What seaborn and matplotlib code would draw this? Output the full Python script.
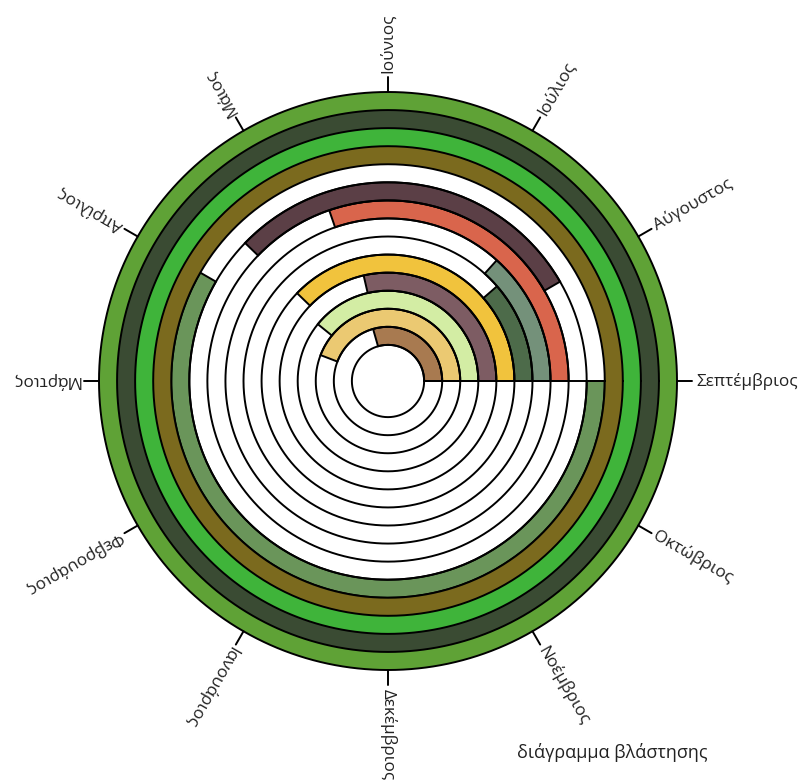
import numpy as np
import matplotlib.pyplot as plt
import seaborn as sns

# Months placed counter-clockwise, starting at 3 o'clock
months = ["Σεπτέμβριος", "Αύγουστος", "Ιούλιος", "Ιούνιος", "Μάιος", "Απρίλιος",
          "Μάρτιος", "Φεβρουάριος", "Ιανουάριος", "Δεκέμβριος", "Νοέμβριος", "Οκτώβριος"]
month_angle_deg = [0, 30, 60, 90, 120, 150, 180, 210, 240, 270, 300, 330]

# One ring per plant, inner to outer: arc start / end in degrees
ring_start_deg = [0, 0, 0, 0, 0, 0, 0, 0, 30, 150, 0, 0, 0, 0]
ring_end_deg = [106, 159, 141, 103, 136, 41, 48, 109, 136, 360, 360, 360, 360, 360]
ring_colors = ["#a87a50", "#ebc972", "#d3eda4", "#7d5c63", "#f1c33d", "#4d6b4a",
               "#74917a", "#d9654c", "#5b3f46", "#6a955a", "#7b6a1e", "#3fb43a",
               "#3a4b33", "#5fa236"]

title = "διάγραμμα βλάστησης"


def draw():
    sns.set_theme(style="white")
    plt.rcParams['font.family'] = ['Open Sans', 'DejaVu Sans']

    fig = plt.figure(figsize=(8.05, 7.83), dpi=100)
    # polar axes centred at (388, 381) px with radius 289 px
    ax = fig.add_axes([99 / 805, (783 - 381 - 289) / 783, 578 / 805, 578 / 783],
                      projection="polar")
    ax.set_theta_zero_location("E")
    ax.set_theta_direction(1)
    ax.set_ylim(0, 16)
    ax.set_axis_off()

    lw = 1.4
    # coloured arcs
    for i, (s, e, c) in enumerate(zip(ring_start_deg, ring_end_deg, ring_colors)):
        full = (e - s) >= 360
        ax.bar(np.radians(s), 1, width=np.radians(e - s), bottom=2 + i, align="edge",
               color=c, edgecolor="none" if full else "black",
               linewidth=0 if full else lw, clip_on=False)

    # ring outlines
    theta = np.linspace(0, 2 * np.pi, 721)
    for r in range(2, 17):
        ax.plot(theta, np.full_like(theta, r), color="black", lw=lw, clip_on=False)

    # the common start line at September
    ax.plot([0, 0], [2, 12], color="black", lw=lw, clip_on=False)

    # month ticks and radial labels
    for m, a in zip(months, month_angle_deg):
        th = np.radians(a)
        ax.plot([th, th], [16, 16.85], color="black", lw=lw, clip_on=False)
        ax.text(th, 17.05, m, rotation=a, rotation_mode="anchor", ha="left",
                va="center", fontsize=12.3, color="#222222")

    fig.text(517 / 805, 1 - 752 / 783, title, ha="left", va="center",
             fontsize=13, color="#222222")

    fig.savefig("out.png", dpi=100, facecolor="white")


if __name__ == "__main__":
    draw()
